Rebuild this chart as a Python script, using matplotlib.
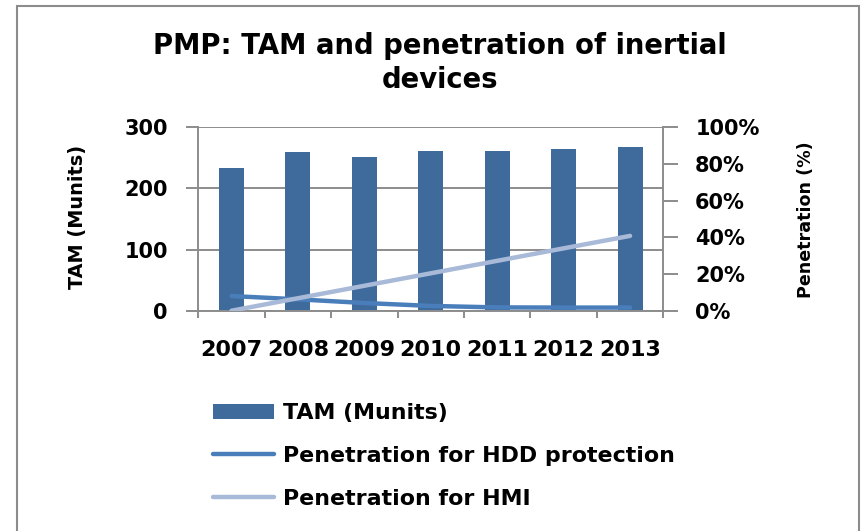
import matplotlib
matplotlib.use("Agg")
import matplotlib.pyplot as plt
import numpy as np
from matplotlib.patches import Rectangle
from matplotlib.ticker import FuncFormatter, FixedLocator

years = ["2007", "2008", "2009", "2010", "2011", "2012", "2013"]
tam = [234, 259, 252, 261, 261, 264, 267]
hdd = [8.0, 6.2, 4.2, 2.6, 1.8, 1.7, 1.7]
hmi = [0.0, 6.8, 13.6, 20.4, 27.2, 34.0, 40.8]

BAR = "#3E6A9C"
HDD = "#4A7EBB"
HMI = "#A8BAD8"
GRID = "#8C8C8C"
FONT = "DejaVu Sans"

fig = plt.figure(figsize=(8.64, 5.31), dpi=100)
ax = fig.add_axes([198.3 / 864, 1 - 310.7 / 531, 465 / 864, 183.4 / 531])
ax2 = ax.twinx()

x = np.arange(len(years))
bars = ax.bar(x, tam, width=0.376, color=BAR, zorder=2, label="TAM (Munits)")
l1, = ax2.plot(x, hdd, color=HDD, lw=3.2, solid_capstyle="round", label="Penetration for HDD protection")
l2, = ax2.plot(x, hmi, color=HMI, lw=3.2, solid_capstyle="round", label="Penetration for HMI")

ax.set_xlim(-0.5, len(years) - 0.5)
ax.set_ylim(0, 300)
ax2.set_ylim(0, 100)
ax.set_yticks([0, 100, 200, 300])
ax2.set_yticks([0, 20, 40, 60, 80, 100])
ax2.yaxis.set_major_formatter(FuncFormatter(lambda v, p: f"{int(v)}%"))
ax.yaxis.grid(True, color=GRID, lw=1.4, zorder=0)
ax.set_axisbelow(True)

for a in (ax, ax2):
    for s in a.spines.values():
        s.set_visible(False)
for sp in (ax.spines["left"], ax2.spines["right"], ax.spines["bottom"]):
    sp.set_visible(True)
    sp.set_color(GRID)
    sp.set_linewidth(1.4)

ax.set_xticks(x)
ax.set_xticklabels(years, fontsize=16, family=FONT, weight="bold")
ax.xaxis.set_minor_locator(FixedLocator(np.arange(-0.5, len(years), 1.0)))
ax.tick_params(axis="x", which="major", length=0, pad=21)
ax.tick_params(axis="x", which="minor", length=5, width=1.4, color=GRID)
ax.tick_params(axis="y", length=9, width=1.4, color=GRID, pad=13, labelsize=15)
ax2.tick_params(axis="y", length=11, width=1.4, color=GRID, pad=12, labelsize=15)
for lab in ax.get_yticklabels() + ax2.get_yticklabels():
    lab.set_fontfamily(FONT)
    lab.set_fontweight("bold")

ax.set_ylabel("TAM (Munits)", fontsize=13.9, family=FONT, weight="bold")
ax.yaxis.set_label_coords(-0.2394, 0.511)
ax2.set_ylabel("Penetration (%)", fontsize=12.6, family=FONT, weight="bold", rotation=90)
ax2.yaxis.set_label_coords(1.2875, 0.495)

fig.text(440 / 864, 1 - 54 / 531, "PMP: TAM and penetration of inertial", ha="center", va="baseline",
         fontsize=19.8, family=FONT, weight="bold")
fig.text(440 / 864, 1 - 88 / 531, "devices", ha="center", va="baseline",
         fontsize=19.8, family=FONT, weight="bold")

leg = fig.legend(handles=[bars, l1, l2], loc="center left", bbox_to_anchor=(213 / 864, 1 - 456 / 531),
                 frameon=False, borderpad=0, borderaxespad=0, handlelength=2.75, handletextpad=0.4,
                 labelspacing=1.02, prop=dict(family=FONT, weight="bold", size=15.9))

fig.patches.append(Rectangle((17 / 864, -0.05), (859 - 17) / 864, 1.05 - 6 / 531, transform=fig.transFigure,
                             fill=False, edgecolor=GRID, lw=1.5))

fig.savefig("out.png", dpi=100)
